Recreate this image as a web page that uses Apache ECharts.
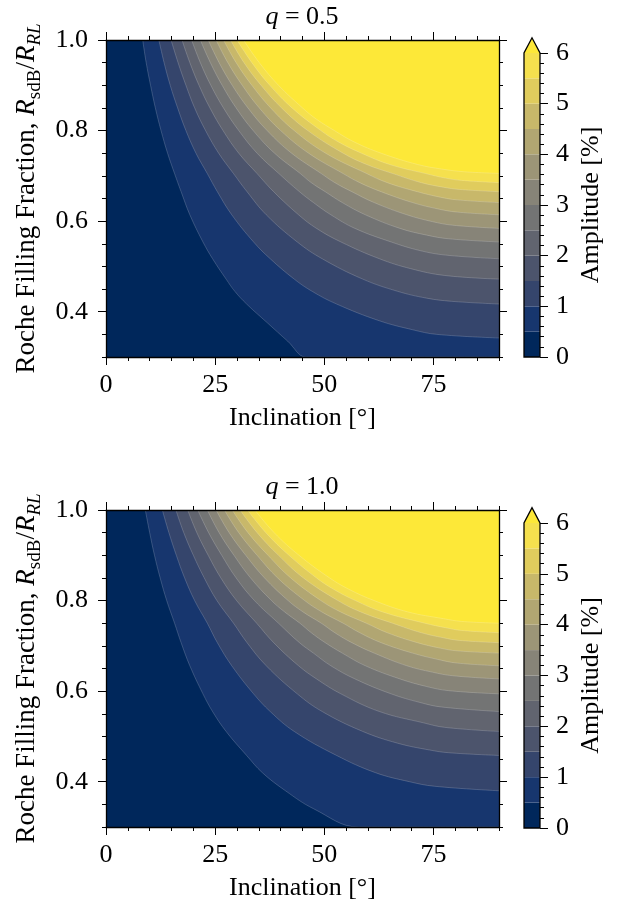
<!DOCTYPE html>
<html lang="en" style="height: 100%">
<head>
    <meta charset="UTF-8">
    <title>Amplitude vs inclination and Roche filling fraction</title>
    <script src="https://cdn.jsdelivr.net/npm/echarts@6/dist/echarts.min.js"></script>
</head>
<body style="height: 100%; margin: 0">
<div id="main" style="width: 623px; height: 905px"></div>
<script>
    // contour levels of the amplitude [%], and the cividis colour of each band (last one = above 6)
    var levels = [0.5, 1, 1.5, 2, 2.5, 3, 3.5, 4, 4.5, 5, 5.5, 6];
    var bandColors = ['#00275B', '#17366E', '#35456C', '#4C546C', '#61646F', '#737474',
        '#878478', '#9C9577', '#B1A672', '#C8B86A', '#E0CC5D', '#F5E04E', '#FDE838'];

    var inclTicks = [0, 25, 50, 75];
    var inclMinor = [0, 5, 10, 15, 20, 25, 30, 35, 40, 45, 50, 55, 60, 65, 70, 75, 80, 85, 90];
    var fracTicks = [0.4, 0.6, 0.8, 1.0];
    var fracMinor = [0.3, 0.35, 0.4, 0.45, 0.5, 0.55, 0.6, 0.65, 0.7, 0.75, 0.8, 0.85, 0.9, 0.95, 1.0];
    var ampTicks = [0, 1, 2, 3, 4, 5, 6];
    var ampMinor = [0, 0.2, 0.4, 0.6, 0.8, 1, 1.2, 1.4, 1.6, 1.8, 2, 2.2, 2.4, 2.6, 2.8, 3, 3.2, 3.4, 3.6, 3.8,
        4, 4.2, 4.4, 4.6, 4.8, 5, 5.2, 5.4, 5.6, 5.8, 6];

    // contour lines: [inclination, filling fraction], one list per level
    var contoursQ05 = [
        // 0.5
        [[8.4, 1], [9.2, .95], [10.2, .9], [11.3, .85], [12.6, .8], [14.1, .75], [15.7, .705], [17.2, .665], [19.2, .614],
            [22.2, .554], [24.4, .517], [27.5, .472], [29.5, .445], [32.2, .417], [37.0, .375], [41.6, .335], [45.7, .3],
            [46.3, .3], [90, .3]],
        // 1.0
        [[12.1, 1], [13.3, .95], [14.7, .9], [16.4, .85], [18.3, .8], [20.6, .75], [23.2, .705], [25.5, .665], [28.8, .614],
            [33.8, .554], [37.6, .517], [43.1, .472], [47.2, .445], [52.8, .417], [62.6, .38], [70.3, .36], [75.7, .35], [90, .342]],
        // 1.5
        [[14.9, 1], [16.5, .95], [18.3, .9], [20.3, .85], [22.8, .8], [25.8, .75], [29.2, .705], [32.3, .665], [36.7, .614],
            [43.8, .554], [49.5, .517], [58.8, .472], [66.8, .445], [73.4, .43], [79.1, .423], [90, .417]],
        // 2.0
        [[17.4, 1], [19.2, .95], [21.3, .9], [23.8, .85], [26.8, .8], [30.4, .75], [34.6, .705], [38.4, .665], [44.1, .614],
            [48.2, .584], [53.8, .554], [62.6, .517], [69.8, .495], [77.6, .48], [90, .472]],
        // 2.5
        [[19.6, 1], [21.6, .95], [24.0, .9], [26.9, .85], [30.4, .8], [34.6, .75], [39.6, .705], [44.3, .665], [47.5, .641],
            [51.5, .614], [57.0, .584], [65.3, .554], [71.9, .535], [77.8, .525], [90, .517]],
        // 3.0
        [[21.6, 1], [23.9, .95], [26.6, .9], [29.8, .85], [33.7, .8], [38.6, .75], [44.5, .705], [47.0, .685], [50.2, .665],
            [54.1, .641], [59.4, .614], [67.3, .584], [73.5, .569], [78.5, .561], [90, .554]],
        // 3.5
        [[23.4, 1], [25.9, .95], [28.9, .9], [32.5, .85], [36.9, .8], [42.5, .75], [49.3, .705], [52.4, .685], [56.3, .665],
            [61.4, .641], [68.9, .614], [74.7, .599], [79.4, .591], [90, .584]],
        // 4.0
        [[25.2, 1], [27.9, .95], [31.2, .9], [35.1, .85], [40.0, .8], [46.4, .75], [54.3, .705], [58.1, .685], [63.0, .665],
            [70.2, .641], [76.0, .627], [80.4, .62], [90, .614]],
        // 4.5
        [[26.9, 1], [29.8, .95], [33.4, .9], [37.7, .85], [43.1, .8], [50.3, .75], [59.7, .705], [64.4, .685], [71.3, .665],
            [76.5, .653], [80.4, .647], [90, .641]],
        // 5.0
        [[28.5, 1], [31.6, .95], [35.5, .9], [40.2, .85], [46.2, .8], [54.3, .75], [59.7, .725], [65.7, .705], [72.2, .685],
            [77.2, .675], [80.9, .67], [90, .665]],
        // 5.5
        [[30.0, 1], [33.4, .95], [37.5, .9], [42.6, .85], [49.2, .8], [53.2, .775], [58.5, .75], [65.0, .725], [73.2, .705],
            [77.8, .695], [81.4, .69], [90, .685]],
        // 6.0
        [[31.5, 1], [35.1, .95], [39.5, .9], [45.0, .85], [48.2, .825], [52.3, .8], [56.8, .775], [63.0, .75], [71.4, .725],
            [76.9, .715], [82.1, .709], [90, .7055]]
    ];

    var contoursQ10 = [
        // 0.5
        [[9.0, 1], [10.0, .95], [11.1, .9], [12.4, .85], [13.9, .8], [15.7, .75], [17.2, .707], [19.2, .656], [22.2, .594],
            [24.4, .555], [27.5, .511], [32.2, .458], [35.8, .42], [41.1, .38], [47.6, .34], [57.8, .3], [58.4, .3], [90, .3]],
        // 1.0
        [[12.9, 1], [14.4, .95], [16.1, .9], [18.0, .85], [20.3, .8], [23.2, .75], [25.5, .707], [28.8, .656], [33.8, .594],
            [37.6, .555], [43.1, .511], [52.8, .458], [61.7, .42], [69.5, .40], [75.2, .39], [90, .38]],
        // 1.5
        [[16.0, 1], [17.8, .95], [20.0, .9], [22.5, .85], [25.4, .8], [29.2, .75], [32.3, .707], [36.7, .656], [43.8, .594],
            [49.5, .555], [58.8, .511], [66.8, .485], [74.1, .47], [78.5, .464], [90, .458]],
        // 2.0
        [[18.7, 1], [20.8, .95], [23.4, .9], [26.3, .85], [29.9, .8], [34.5, .75], [38.4, .707], [44.1, .656], [48.2, .627],
            [53.8, .594], [62.6, .555], [72.7, .53], [77.6, .52], [90, .511]],
        // 2.5
        [[21.0, 1], [23.5, .95], [26.5, .9], [29.8, .85], [34.0, .8], [39.5, .75], [44.3, .707], [47.5, .684], [51.5, .656],
            [57.0, .627], [65.3, .594], [71.9, .575], [76.8, .565], [90, .555]],
        // 3.0
        [[23.2, 1], [25.9, .95], [29.3, .9], [33.1, .85], [37.9, .8], [40.9, .775], [44.4, .75], [47.0, .729], [50.2, .707],
            [54.1, .684], [59.4, .656], [67.3, .627], [73.5, .61], [78.5, .601], [90, .594]],
        // 3.5
        [[25.2, 1], [28.2, .95], [32.0, .9], [36.3, .85], [41.7, .8], [45.1, .775], [49.3, .75], [52.4, .729], [56.3, .707],
            [61.4, .684], [68.9, .656], [74.7, .642], [79.4, .634], [90, .627]],
        // 4.0
        [[27.1, 1], [30.4, .95], [34.6, .9], [39.3, .85], [45.5, .8], [49.4, .775], [54.3, .75], [58.1, .729], [63.0, .707],
            [70.2, .684], [76.0, .67], [80.4, .662], [90, .656]],
        // 4.5
        [[28.9, 1], [32.5, .95], [37.1, .9], [42.3, .85], [49.2, .8], [53.7, .775], [59.6, .75], [64.4, .729], [71.3, .707],
            [76.5, .695], [80.4, .689], [90, .684]],
        // 5.0
        [[30.7, 1], [34.6, .95], [39.5, .9], [45.2, .85], [53.1, .8], [58.3, .775], [65.6, .75], [72.2, .729], [77.2, .718],
            [80.9, .712], [90, .707]],
        // 5.5
        [[32.4, 1], [36.6, .95], [41.9, .9], [48.2, .85], [52.1, .825], [57.1, .8], [63.3, .775], [73.0, .75], [77.8, .74],
            [81.4, .734], [90, .729]],
        // 6.0
        [[34.1, 1], [38.5, .95], [44.2, .9], [51.2, .85], [55.6, .825], [61.4, .8], [69.1, .775], [77.3, .76], [81.4, .754],
            [90, .75]]
    ];

    var panelTitles = ['0.5', '1.0'];
    var panelContours = [contoursQ05, contoursQ10];

    var FONT = 'Liberation Serif';
    var FS = 26;
    var plotTops = [40, 510];
    var cbTops = [53, 523];
    var cbHeights = [304, 305];

    var grids = [], xAxes = [], yAxes = [], series = [], titles = [];

    function ticksOnly(extra) {
        var base = {
            type: 'value', z: 10, splitLine: {show: false},
            axisLine: {show: false, onZero: false},
            axisLabel: {show: false},
            axisTick: {show: true, inside: false, lineStyle: {color: '#000', width: 1}}
        };
        return Object.assign(base, extra);
    }

    var tickLabel = {show: true, color: '#000', fontFamily: FONT, fontSize: FS};
    var spine = {show: true, onZero: false, lineStyle: {color: '#000', width: 1.3}};

    panelTitles.forEach(function (q, g) {
        grids.push({left: 106, top: plotTops[g], width: 393, height: 317, show: true,
            backgroundColor: bandColors[0], borderWidth: 0, outerBoundsMode: 'none', containLabel: false});

        // bottom and top x axes: major ticks, then minor ticks
        xAxes.push(ticksOnly({gridIndex: g, min: 0, max: 90, position: 'bottom', axisLine: spine,
            axisTick: {show: true, customValues: inclTicks, length: 8, lineStyle: {color: '#000', width: 1}},
            axisLabel: Object.assign({customValues: inclTicks, margin: 15}, tickLabel),
            name: 'Inclination [°]', nameLocation: 'middle', nameGap: 48,
            nameTextStyle: {color: '#000', fontFamily: FONT, fontSize: FS}}));
        xAxes.push(ticksOnly({gridIndex: g, min: 0, max: 90, position: 'bottom',
            axisTick: {show: true, customValues: inclMinor, length: 4, lineStyle: {color: '#000', width: 1}}}));
        xAxes.push(ticksOnly({gridIndex: g, min: 0, max: 90, position: 'top', axisLine: spine,
            axisTick: {show: true, customValues: inclTicks, length: 8, lineStyle: {color: '#000', width: 1}}}));
        xAxes.push(ticksOnly({gridIndex: g, min: 0, max: 90, position: 'top',
            axisTick: {show: true, customValues: inclMinor, length: 4, lineStyle: {color: '#000', width: 1}}}));

        // left and right y axes
        yAxes.push(ticksOnly({gridIndex: g, min: 0.3, max: 1.0, position: 'left', axisLine: spine,
            axisTick: {show: true, customValues: fracTicks, length: 8, lineStyle: {color: '#000', width: 1}},
            axisLabel: Object.assign({customValues: fracTicks, margin: 18,
                formatter: function (v) { return v.toFixed(1); }}, tickLabel),
            name: '{n|Roche Filling Fraction, }{i|R}{s|sdB}{n|/}{i|R}{si|RL}',
            nameLocation: 'middle', nameGap: 51,
            nameTextStyle: {color: '#000', fontFamily: FONT, fontSize: 27, rich: {
                n: {fontFamily: FONT, fontSize: 27, lineHeight: 36, color: '#000'},
                i: {fontFamily: FONT, fontSize: 27, fontStyle: 'italic', lineHeight: 36, color: '#000'},
                s: {fontFamily: FONT, fontSize: 19, lineHeight: 21, verticalAlign: 'bottom', color: '#000'},
                si: {fontFamily: FONT, fontSize: 19, fontStyle: 'italic', lineHeight: 21, verticalAlign: 'bottom', color: '#000'}
            }}}));
        yAxes.push(ticksOnly({gridIndex: g, min: 0.3, max: 1.0, position: 'left',
            axisTick: {show: true, customValues: fracMinor, length: 4, lineStyle: {color: '#000', width: 1}}}));
        yAxes.push(ticksOnly({gridIndex: g, min: 0.3, max: 1.0, position: 'right', axisLine: spine,
            axisTick: {show: true, customValues: fracTicks, length: 8, lineStyle: {color: '#000', width: 1}}}));
        yAxes.push(ticksOnly({gridIndex: g, min: 0.3, max: 1.0, position: 'right',
            axisTick: {show: true, customValues: fracMinor, length: 4, lineStyle: {color: '#000', width: 1}}}));

        titles.push({text: '{i|q}{n| = ' + q + '}', left: 302, top: plotTops[g] - 36, textAlign: 'center', padding: 0,
            textStyle: {fontWeight: 'normal', rich: {
                i: {fontFamily: FONT, fontSize: FS, fontStyle: 'italic', fontWeight: 'normal', color: '#000'},
                n: {fontFamily: FONT, fontSize: FS, fontWeight: 'normal', color: '#000'}
            }}});

        // filled contour bands: area above each level, drawn low to high
        panelContours[g].forEach(function (line, k) {
            series.push({
                type: 'line', xAxisIndex: 4 * g, yAxisIndex: 4 * g, data: line,
                symbol: 'none', smooth: 0.4, silent: true, animation: false,
                lineStyle: {color: 'rgba(255,255,255,0.3)', width: 0.6},
                areaStyle: {origin: 'end', color: bandColors[k + 1], opacity: 1},
                z: 1
            });
        });
    });

    // colour bars
    var bandEdges = [0].concat(levels);
    var cbBands = [];
    for (var k = 0; k < levels.length; k++) {
        cbBands.push([bandEdges[k], bandEdges[k + 1], k]);
    }
    var topLevel = levels[levels.length - 1];
    var tipLevel = topLevel * 1.05;

    panelTitles.forEach(function (q, g) {
        var gi = 2 + g;
        grids.push({left: 524, top: cbTops[g], width: 16, height: cbHeights[g], outerBoundsMode: 'none', containLabel: false});
        xAxes.push({type: 'value', gridIndex: gi, min: 0, max: 1, show: false});
        yAxes.push(ticksOnly({gridIndex: gi, min: 0, max: topLevel, position: 'right',
            axisTick: {show: true, customValues: ampTicks, length: 8, lineStyle: {color: '#000', width: 1}},
            axisLabel: Object.assign({customValues: ampTicks, margin: 16}, tickLabel),
            name: 'Amplitude [%]', nameLocation: 'middle', nameGap: 38,
            nameTextStyle: {color: '#000', fontFamily: FONT, fontSize: FS}}));
        yAxes.push(ticksOnly({gridIndex: gi, min: 0, max: topLevel, position: 'right',
            axisTick: {show: true, customValues: ampMinor, length: 4, lineStyle: {color: '#000', width: 1}}}));

        series.push({
            type: 'custom', xAxisIndex: 8 + g, yAxisIndex: 8 + 2 * g, data: cbBands, silent: true, animation: false,
            renderItem: function (params, api) {
                var p0 = api.coord([0, api.value(0)]);
                var p1 = api.coord([1, api.value(1)]);
                return {type: 'rect', shape: {x: p0[0], y: p1[1], width: p1[0] - p0[0], height: p0[1] - p1[1]},
                    style: {fill: bandColors[api.value(2)]}};
            }
        });
        series.push({
            type: 'custom', xAxisIndex: 8 + g, yAxisIndex: 8 + 2 * g, data: [[0, topLevel, tipLevel]],
            silent: true, animation: false, z: 3,
            renderItem: function (params, api) {
                var lo = api.value(0), hi = api.value(1), tip = api.value(2);
                var tri = [api.coord([0, hi]), api.coord([1, hi]), api.coord([0.5, tip])];
                var outline = [api.coord([0, lo]), api.coord([0, hi]), api.coord([0.5, tip]),
                    api.coord([1, hi]), api.coord([1, lo])];
                return {type: 'group', children: [
                    {type: 'polygon', shape: {points: tri}, style: {fill: bandColors[bandColors.length - 1]}},
                    {type: 'polygon', shape: {points: outline}, style: {fill: 'none', stroke: '#000', lineWidth: 1.3}}
                ]};
            }
        });
    });

    var myChart = echarts.init(document.getElementById('main'), null, {renderer: 'canvas'});
    myChart.setOption({
        backgroundColor: '#fff',
        animation: false,
        title: titles,
        grid: grids,
        xAxis: xAxes,
        yAxis: yAxes,
        series: series
    });
</script>
</body>
</html>
